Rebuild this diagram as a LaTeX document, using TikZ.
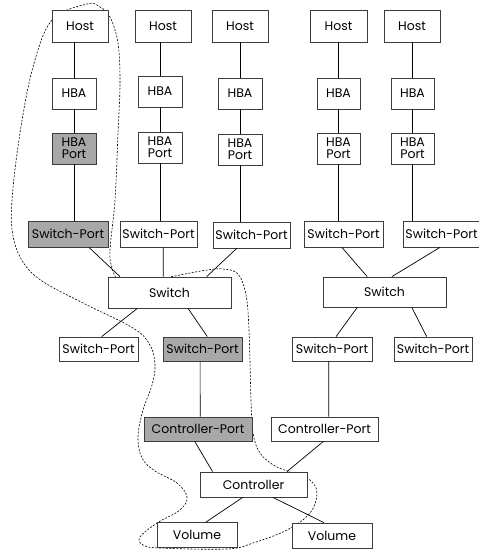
\documentclass[tikz,border=0pt]{standalone}
\usepackage{fontspec}
\setmainfont{Poppins}
\usetikzlibrary{calc}
\definecolor{portgray}{RGB}{168,168,168}
\definecolor{boxline}{RGB}{60,60,60}
\tikzset{
  bx/.style={draw=boxline, line width=0.8pt, fill=white, inner sep=0pt, font=\fontsize{12.5}{12}\selectfont, align=center},
  gbx/.style={bx, fill=portgray},
  conn/.style={draw=black, line width=0.7pt},
  lasso/.style={draw=black, line width=0.6pt, dash pattern=on 2pt off 1.5pt}
}
\newcommand{\bxat}[7]{\node[#1, minimum width=#5pt, minimum height=#6pt] (#2) at (#3,#4) {#7};}
\newcommand{\lnk}[4]{\draw[conn] ($(#1.south west)!#2!(#1.south east)$) -- ($(#3.north west)!#4!(#3.north east)$);}
\begin{document}
\begin{tikzpicture}[x=1pt,y=-1pt]
\useasboundingbox (0,0) rectangle (479,552);
% dashed lasso
\draw[lasso] plot[smooth cycle, tension=0.6] coordinates {
(87,4) (52,20) (33,67) (20,133) (12,200) (13,236) (23,262) (42,281) (83,303) (133,328) (150,345) (155,365) (152,385) (143,410) (138,437) (142,458) (155,471) (177,483) (187,497) (180,510) (157,523) (140,537) (143,545) (160,548) (227,549) (253,543) (287,530) (310,513) (317,493) (310,480) (293,473) (275,466) (260,453) (253,433) (251,400) (249,330) (246,295) (238,274) (223,269) (207,270) (180,275) (155,280) (130,283) (118,280) (112,268) (110,250) (115,200) (118,133) (120,83) (118,43) (110,17) (100,7)};
% hosts
\bxat{bx}{host1}{80}{26}{56}{32}{Host}
\bxat{bx}{host2}{163}{26}{56}{32}{Host}
\bxat{bx}{host3}{240}{26}{56}{32}{Host}
\bxat{bx}{host4}{338.5}{26}{57}{32}{Host}
\bxat{bx}{host5}{412}{26}{56}{32}{Host}
% HBAs
\bxat{bx}{hba1}{74}{93.5}{44}{31}{HBA}
\bxat{bx}{hba2}{160}{91.5}{44}{31}{HBA}
\bxat{bx}{hba3}{240}{93.5}{44}{31}{HBA}
\bxat{bx}{hba4}{338.5}{93.5}{43}{31}{HBA}
\bxat{bx}{hba5}{412.5}{93.5}{43}{31}{HBA}
% HBA ports
\bxat{gbx}{hbap1}{74}{148.5}{44}{31}{HBA\\Port}
\bxat{bx}{hbap2}{160}{147.5}{44}{31}{HBA\\Port}
\bxat{bx}{hbap3}{240}{149.5}{44}{31}{HBA\\Port}
\bxat{bx}{hbap4}{338.5}{148.5}{43}{31}{HBA\\Port}
\bxat{bx}{hbap5}{412.5}{148.5}{43}{31}{HBA\\Port}
% upper switch ports
\bxat{gbx}{sp1}{68}{234}{80}{26}{Switch-Port}
\bxat{bx}{sp2}{158.5}{234}{77}{26}{Switch-Port}
\bxat{bx}{sp3}{251.5}{235}{77}{26}{Switch-Port}
\bxat{bx}{sp4}{343.5}{234}{79}{26}{Switch-Port}
\bxat{bx}{sp5}{441.5}{234}{77}{26}{Switch-Port}
% switches
\bxat{bx}{sw1}{169.5}{292.5}{123}{31}{Switch}
\bxat{bx}{sw2}{384.5}{292}{123}{30}{Switch}
% lower switch ports
\bxat{bx}{lsp1}{98.5}{349}{79}{24}{Switch-Port}
\bxat{gbx}{lsp2}{202.5}{349}{79}{24}{Switch-Port}
\bxat{bx}{lsp3}{332}{349}{80}{24}{Switch-Port}
\bxat{bx}{lsp4}{433}{349}{78}{24}{Switch-Port}
% controller ports
\bxat{gbx}{cp1}{198}{429}{108}{24}{Controller-Port}
\bxat{bx}{cp2}{324.5}{429}{107}{24}{Controller-Port}
% controller
\bxat{bx}{ctl}{253.5}{484.5}{107}{25}{Controller}
% volumes
\bxat{bx}{vol1}{197}{535}{80}{25}{Volume}
\bxat{bx}{vol2}{332}{535.5}{80}{25}{Volume}
% vertical links
\foreach \i in {1,...,5}{
  \draw[conn] (hba\i.north) -- (hba\i.north |- host\i.south);
  \draw[conn] (hbap\i.north) -- (hbap\i.north |- hba\i.south);
  \draw[conn] (hbap\i.south) -- (hbap\i.south |- sp\i.north);
}
% upper ports to switches
\lnk{sp1}{0.76}{sw1}{0.10}
\lnk{sp2}{0.56}{sw1}{0.45}
\lnk{sp3}{0.31}{sw1}{0.80}
\lnk{sp4}{0.48}{sw2}{0.36}
\lnk{sp5}{0.48}{sw2}{0.56}
% switches to lower ports
\lnk{sw1}{0.24}{lsp1}{0.54}
\lnk{sw1}{0.65}{lsp2}{0.56}
\lnk{sw2}{0.28}{lsp3}{0.55}
\lnk{sw2}{0.72}{lsp4}{0.42}
% ports to controller ports
\lnk{lsp2}{0.47}{cp1}{0.52}
\lnk{lsp3}{0.46}{cp2}{0.54}
% controller ports to controller
\lnk{cp1}{0.47}{ctl}{0.12}
\lnk{cp2}{0.49}{ctl}{0.81}
% controller to volumes
\lnk{ctl}{0.40}{vol1}{0.61}
\lnk{ctl}{0.68}{vol2}{0.40}
\end{tikzpicture}
\end{document}
